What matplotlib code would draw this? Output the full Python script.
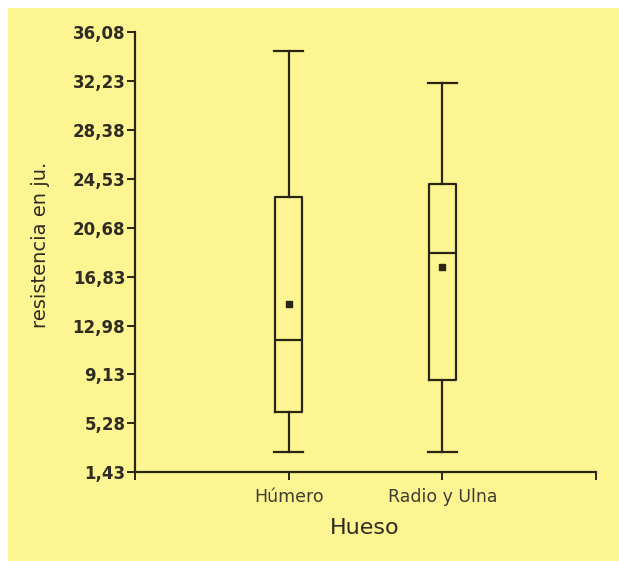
import matplotlib
matplotlib.use("Agg")
import matplotlib.pyplot as plt
from matplotlib.patches import Rectangle

plt.rcParams['font.family'] = ['DejaVu Sans']

# Bone groups and their strength summaries
categories = ["Húmero", "Radio y Ulna"]
whisker_low = [3.03, 3.03]
q1 = [6.18, 8.69]
median = [11.84, 18.69]
q3 = [23.10, 24.12]
whisker_high = [34.61, 32.09]
mean = [14.68, 17.59]

ytick_values = [1.43, 5.28, 9.13, 12.98, 16.83, 20.68, 24.53, 28.38, 32.23, 36.08]
ytick_labels = ["1,43", "5,28", "9,13", "12,98", "16,83", "20,68",
                "24,53", "28,38", "32,23", "36,08"]

ink = "#2a2512"
text_col = "#2f2c22"
bg = "#fdf592"

fig = plt.figure(figsize=(6.19, 5.61), dpi=100)
fig.patch.set_facecolor("white")
fig.add_artist(Rectangle((8 / 619, 0), 1, 1 - 8 / 561, transform=fig.transFigure,
                         facecolor=bg, edgecolor="none", zorder=-10))

ax = fig.add_axes([135 / 619, 1 - 472.3 / 561, 461 / 619, 440.3 / 561])
ax.set_facecolor("none")

stats = []
for i, name in enumerate(categories):
    stats.append(dict(label=name, whislo=whisker_low[i], q1=q1[i], med=median[i],
                      q3=q3[i], whishi=whisker_high[i], mean=mean[i], fliers=[]))

positions = list(range(1, len(categories) + 1))
line_kw = dict(color=ink, linewidth=1.6)
ax.bxp(stats, positions=positions, widths=0.18, showmeans=True, showfliers=False,
       boxprops=line_kw, whiskerprops=line_kw, capprops=line_kw,
       medianprops=line_kw, capwidths=0.19,
       meanprops=dict(marker="s", markersize=5, markerfacecolor=ink,
                      markeredgecolor=ink))

ax.set_xlim(0, len(categories) + 1)
ax.set_ylim(ytick_values[0], ytick_values[-1])
ax.set_yticks(ytick_values)
ax.set_yticklabels(ytick_labels)
ax.set_xticks([0] + positions + [len(categories) + 1])
ax.set_xticklabels([""] + categories + [""])

for side in ("top", "right"):
    ax.spines[side].set_visible(False)
for side in ("left", "bottom"):
    ax.spines[side].set_color(ink)
    ax.spines[side].set_linewidth(1.6)

ax.tick_params(axis="y", direction="out", length=6, width=1.4, color=ink,
               labelsize=12, labelcolor=text_col, pad=1)
ax.tick_params(axis="x", direction="out", length=6, width=1.4, color=ink,
               labelsize=12.5, labelcolor="#403c30", pad=5)
for lbl in ax.get_yticklabels():
    lbl.set_fontweight("bold")

fig.text(41 / 619, 1 - 245 / 561, "resistencia en ju.", rotation=90,
         ha="center", va="center", fontsize=14, color=text_col)
fig.text(365 / 619, 1 - 528 / 561, "Hueso", ha="center", va="center",
         fontsize=16, color=text_col)

fig.savefig("out.png", dpi=100, facecolor=fig.get_facecolor())
